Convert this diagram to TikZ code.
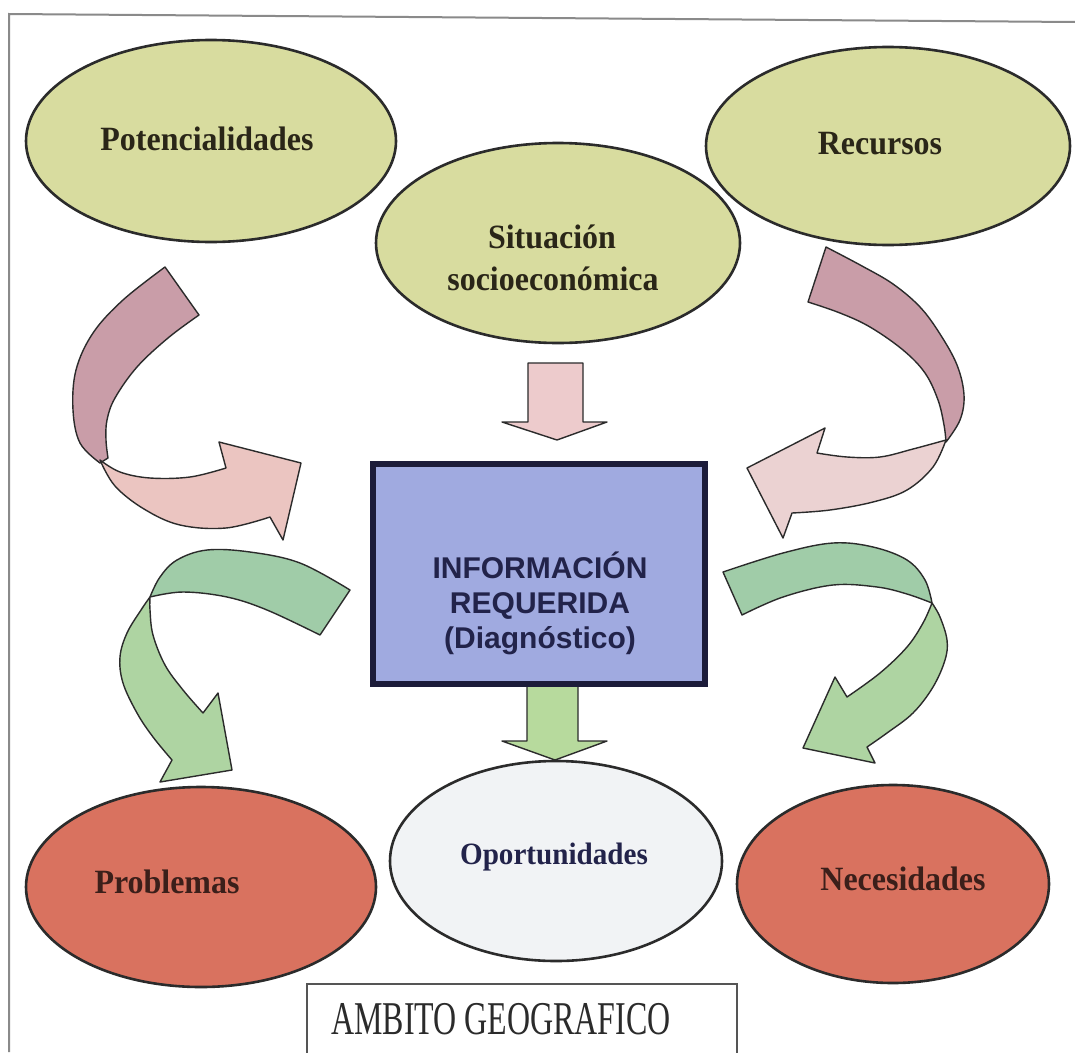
\documentclass[tikz,border=0pt]{standalone}
\usepackage{fontspec}
\setmainfont{Liberation Serif}
\newfontfamily\boxsans{Liberation Sans}
\newfontfamily\labfont[FakeStretch=0.94]{Liberation Serif}
\newfontfamily\capfont[FakeStretch=0.68]{Liberation Serif}
\usetikzlibrary{shapes.geometric}

\definecolor{olivefill}{HTML}{D8DC9F}
\definecolor{redfill}{HTML}{D9725F}
\definecolor{palefill}{HTML}{F1F3F5}
\definecolor{boxfill}{HTML}{A0AAE0}
\definecolor{boxedge}{HTML}{1C1C3A}
\definecolor{edge}{HTML}{2B2B2B}
\definecolor{mauve}{HTML}{C99DA8}
\definecolor{rosepale}{HTML}{EBC5C1}
\definecolor{rosespeck}{HTML}{EBD2D2}
\definecolor{greendark}{HTML}{A0CCA8}
\definecolor{greenlight}{HTML}{AED4A2}
\definecolor{greenstem}{HTML}{B7DA9D}
\definecolor{pinkstem}{HTML}{EDCBCC}
\definecolor{labtext}{HTML}{2A2618}
\definecolor{redtext}{HTML}{3B1F1A}
\definecolor{navytext}{HTML}{22234A}
\definecolor{framegray}{HTML}{8A8A8A}

\begin{document}
\begin{tikzpicture}[x=1pt,y=-1pt,
  bubble/.style={ellipse, draw=edge, line width=2.6pt, inner sep=0pt, outer sep=0pt},
  lab/.style={anchor=base, inner sep=0pt, text=labtext,
    font=\labfont\bfseries\fontsize{34}{40}\selectfont},
  ribbon/.style={draw=edge, line width=1.4pt, line join=round},
  smoothline/.style={smooth, tension=0.6}]

\useasboundingbox (0,0) rectangle (1075,1052);
\fill[white] (0,0) rectangle (1075,1052);

% outer frame (top and left sides)
\draw[framegray, line width=2pt] (9,1052) -- (9,14) -- (1075,22);

% ellipses
\node[bubble, fill=olivefill, minimum width=370pt, minimum height=202pt] (pot) at (211,141) {};
\node[bubble, fill=olivefill, minimum width=364pt, minimum height=198pt] (rec) at (888,146) {};
\node[bubble, fill=olivefill, minimum width=364pt, minimum height=200pt] (sit) at (558,243) {};
\node[bubble, fill=redfill, minimum width=350pt, minimum height=200pt] (prob) at (201,887) {};
\node[bubble, fill=palefill, minimum width=332pt, minimum height=200pt] (opor) at (556,861) {};
\node[bubble, fill=redfill, minimum width=312pt, minimum height=198pt] (nec) at (893,884) {};

% left curved arrow (pink): back part, then front part with head
\filldraw[ribbon, fill=mauve]
  plot[smoothline] coordinates {(165,267) (123,300) (93,333) (76,370) (73,410) (80,443) (100,463)}
  -- plot[smoothline] coordinates {(108,458) (106,440) (107,420) (115,398) (137,367) (168,338) (199,315)}
  -- cycle;
\filldraw[ribbon, fill=rosepale]
  plot[smoothline] coordinates {(100,460) (120,472) (150,478) (190,477) (226,468)}
  -- (219,442) -- (301,463) -- (283,540)
  -- plot[smoothline] coordinates {(270,517) (226,528) (180,525) (144,509) (115,486) (100,460)}
  -- cycle;

% right curved arrow (pink)
\filldraw[ribbon, fill=mauve]
  plot[smoothline] coordinates {(826,247) (862,266) (893,284) (920,307) (940,334) (957,365) (964,395) (960,420) (946,442)}
  -- plot[smoothline] coordinates {(946,442) (944,425) (938,400) (925,373) (903,350) (870,327) (840,313) (808,302)}
  -- cycle;
\filldraw[ribbon, fill=rosespeck]
  plot[smoothline] coordinates {(946,440) (913,449) (880,457) (847,457) (817,453)}
  -- (825,428) -- (747,468) -- (783,538)
  -- plot[smoothline] coordinates {(792,513) (830,510) (873,502) (907,490) (933,467) (946,440)}
  -- cycle;

% left curved arrow (green)
\filldraw[ribbon, fill=greendark]
  plot[smoothline] coordinates {(350,590) (300,563) (250,552) (207,550) (177,560) (160,577) (150,597)}
  -- plot[smoothline] coordinates {(150,597) (183,592) (227,597) (267,610) (320,635)}
  -- cycle;
\filldraw[ribbon, fill=greenlight]
  plot[smoothline] coordinates {(150,597) (141,610) (127,633) (120,657) (123,683) (137,713) (153,737) (172,760)}
  -- (160,782) -- (232,770) -- (218,693)
  -- plot[smoothline] coordinates {(203,713) (183,690) (165,665) (153,635) (150,610) (150,597)}
  -- cycle;

% right curved arrow (green)
\filldraw[ribbon, fill=greendark]
  plot[smoothline] coordinates {(723,572) (783,553) (833,543) (873,547) (907,560) (925,580) (932,603)}
  -- plot[smoothline] coordinates {(932,603) (907,594) (877,587) (833,585) (783,597) (742,615)}
  -- cycle;
\filldraw[ribbon, fill=greenlight]
  plot[smoothline] coordinates {(932,603) (940,617) (947,640) (945,660) (933,687) (913,713) (887,733) (867,747)}
  -- (875,763) -- (803,748) -- (835,677)
  -- plot[smoothline] coordinates {(847,697) (880,673) (907,647) (923,623) (932,603)}
  -- cycle;

% straight arrows into and out of the box
\filldraw[ribbon, fill=pinkstem]
  (528,363) -- (583,363) -- (583,422) -- (607,422) -- (557,440) -- (502,422) -- (528,422) -- cycle;
\filldraw[ribbon, fill=greenstem]
  (527,686) -- (578,686) -- (578,741) -- (607,741) -- (555,760) -- (502,741) -- (527,741) -- cycle;

% central box
\node[draw=boxedge, fill=boxfill, line width=6pt, inner sep=0pt, outer sep=0pt,
  minimum width=332pt, minimum height=220pt] (info) at (539,574) {};
\node[align=center, inner sep=0pt, text=navytext,
  font=\boxsans\bfseries\fontsize{30}{35}\selectfont] (infotext) at (540,603)
  {INFORMACIÓN\\REQUERIDA\\(Diagnóstico)};

% labels
\node[lab] (potlab) at (207,150) {Potencialidades};
\node[lab] (reclab) at (880,154) {Recursos};
\node[lab] (sitlab) at (552,248) {Situación};
\node[lab] (sitlabb) at (553,290) {socioeconómica};
\node[lab, text=redtext] (problab) at (167,893) {Problemas};
\node[lab, text=navytext, font=\labfont\bfseries\fontsize{31}{36}\selectfont] (oporlab) at (554,864) {Oportunidades};
\node[lab, text=redtext] (neclab) at (903,890) {Necesidades};

% bottom caption box
\draw[edge!80, line width=1.5pt] (307,1053) -- (307,984) -- (737,984) -- (737,1053);
\node[anchor=base, inner sep=0pt, text=edge, font=\capfont\fontsize{47}{52}\selectfont] (ambito) at (501,1034) {AMBITO GEOGRAFICO};

\end{tikzpicture}
\end{document}
